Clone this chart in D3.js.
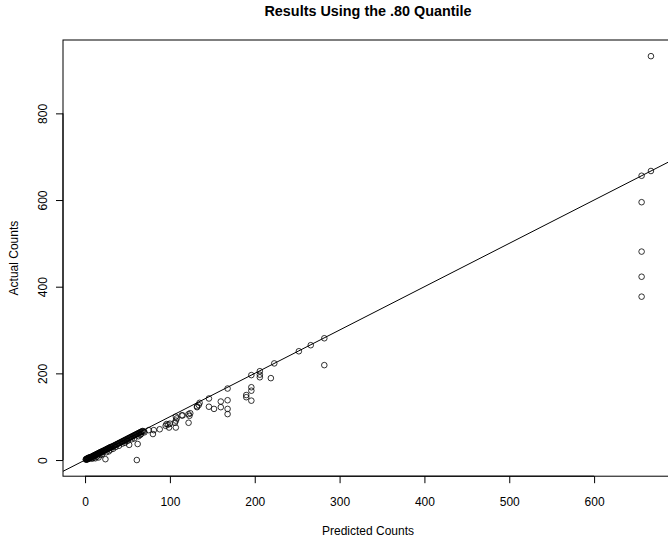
<!DOCTYPE html>
<html>
<head>
<meta charset="utf-8">
<script src="https://cdn.jsdelivr.net/npm/d3@7"></script>
<style>
  html, body { margin: 0; padding: 0; background: #fff; }
  svg { display: block; }
  text { font-family: "Liberation Sans", Arial, Helvetica, sans-serif; fill: #000; }
</style>
</head>
<body>
<svg id="chart" width="668" height="541"></svg>
<script>
// Predicted vs actual counts, each pair is one observation
const predicted = [
  1,1,2,2,2,3,3,3,4,4,4,5,5,5,6,6,7,7,8,8,9,9,10,10,11,11,12,12,13,13,14,14,15,15,16,16,17,17,18,18,19,19,20,20,
  21,22,22,23,24,24,25,26,26,27,28,28,29,30,30,31,32,33,34,35,36,37,38,39,40,41,42,43,44,45,46,47,48,49,50,
  51,52,53,54,55,56,57,58,59,60,61,62,63,64,65,66,67,68,69,
  10,14,18,20,25,28,30,33,36,40,44,47,50,55,58,63,65,66,70,12,16,8,
  62,52,61,24,
  75,80,81,88,95,98,99,96,100,107,107,107,106,108,114,115,122,122,123,124,132,134,132,135,146,146,152,160,160,
  168,168,168,168,190,190,196,196,196,196,206,206,206,219,223,252,266,282,282,
  656,656,656,656,656,667,667
];
const actual = [
  1,2,1,2,3,2,3,4,3,4,5,4,5,6,5,6,6,7,7,8,8,9,9,10,10,11,11,12,12,13,13,14,14,15,15,16,16,17,17,18,18,19,19,20,
  20,21,22,22,23,24,24,25,26,26,27,28,28,29,30,30,31,32,33,34,35,36,37,38,39,40,41,42,43,44,45,46,47,48,49,
  50,51,52,53,54,55,56,57,58,59,60,61,62,63,64,65,66,67,66,
  5,8,12,13,18,20,24,26,30,33,38,40,44,48,50,55,58,60,64,4,6,3,
  37,35,0,2,
  69,60,69,71,79,82,75,83,84,100,91,75,86,96,103,103,86,106,102,108,122,127,124,132,142,123,118,135,122,
  165,138,118,106,150,145,196,168,160,137,205,197,191,189,223,251,265,281,219,
  656,595,481,423,377,667,932
];
const xTicks = [0, 100, 200, 300, 400, 500, 600];
const yTicks = [0, 200, 400, 600, 800];
const titleText = "Results Using the .80 Quantile";
const xTitle = "Predicted Counts";
const yTitle = "Actual Counts";

const svg = d3.select("#chart");

// plot region (extends past the right edge of the canvas)
const plotLeft = 63, plotRight = 673, plotTop = 40, plotBottom = 476.2;
const x = d3.scaleLinear().domain([-26, 693]).range([plotLeft, plotRight]);
const y = d3.scaleLinear().domain([-37.3, 969.3]).range([plotBottom, plotTop]);

svg.append("defs").append("clipPath").attr("id", "plotclip")
  .append("rect").attr("x", plotLeft).attr("y", plotTop)
  .attr("width", plotRight - plotLeft).attr("height", plotBottom - plotTop);

// reference line y = x
svg.append("g").attr("clip-path", "url(#plotclip)")
  .append("line")
  .attr("x1", x(-100)).attr("y1", y(-100))
  .attr("x2", x(1000)).attr("y2", y(1000))
  .attr("stroke", "#000").attr("stroke-width", 1);

// points
svg.append("g").selectAll("circle")
  .data(d3.range(predicted.length))
  .join("circle")
  .attr("cx", i => x(predicted[i]))
  .attr("cy", i => y(actual[i]))
  .attr("r", 2.8)
  .attr("fill", "none")
  .attr("stroke", "#000")
  .attr("stroke-width", 0.8);

// box
svg.append("rect")
  .attr("x", plotLeft).attr("y", plotTop)
  .attr("width", plotRight - plotLeft).attr("height", plotBottom - plotTop)
  .attr("fill", "none").attr("stroke", "#000").attr("stroke-width", 1);

// x axis
const xAxis = d3.axisBottom(x).tickValues(xTicks).tickSize(7).tickPadding(0).tickFormat(d3.format("d"));
const gx = svg.append("g").attr("transform", `translate(0,${plotBottom})`).call(xAxis);
gx.select(".domain").remove();
gx.append("line").attr("x1", x(xTicks[0])).attr("x2", x(xTicks[xTicks.length - 1]))
  .attr("stroke", "#000");
gx.selectAll(".tick line").attr("stroke", "#000");
gx.selectAll(".tick text")
  .attr("y", 30).attr("dy", null)
  .style("font-size", "12px").style("font-family", "Liberation Sans, Arial, sans-serif");

// y axis
const yAxis = d3.axisLeft(y).tickValues(yTicks).tickSize(7).tickFormat(d3.format("d"));
const gy = svg.append("g").attr("transform", `translate(${plotLeft},0)`).call(yAxis);
gy.select(".domain").remove();
gy.append("line").attr("y1", y(yTicks[0])).attr("y2", y(yTicks[yTicks.length - 1]))
  .attr("stroke", "#000");
gy.selectAll(".tick line").attr("stroke", "#000");
gy.selectAll(".tick text")
  .attr("x", null).attr("dy", null)
  .attr("text-anchor", "middle")
  .attr("transform", `translate(${46.5 - plotLeft},0) rotate(-90)`)
  .style("font-size", "12px").style("font-family", "Liberation Sans, Arial, sans-serif");

// titles
svg.append("text")
  .attr("x", (plotLeft + plotRight) / 2).attr("y", 16)
  .attr("text-anchor", "middle")
  .style("font-size", "14.4px").style("font-weight", "bold")
  .text(titleText);

svg.append("text")
  .attr("x", (plotLeft + plotRight) / 2).attr("y", 535)
  .attr("text-anchor", "middle")
  .style("font-size", "12px")
  .text(xTitle);

svg.append("text")
  .attr("transform", `translate(17.7,${(plotTop + plotBottom) / 2}) rotate(-90)`)
  .attr("text-anchor", "middle")
  .style("font-size", "12px")
  .text(yTitle);
</script>
</body>
</html>
